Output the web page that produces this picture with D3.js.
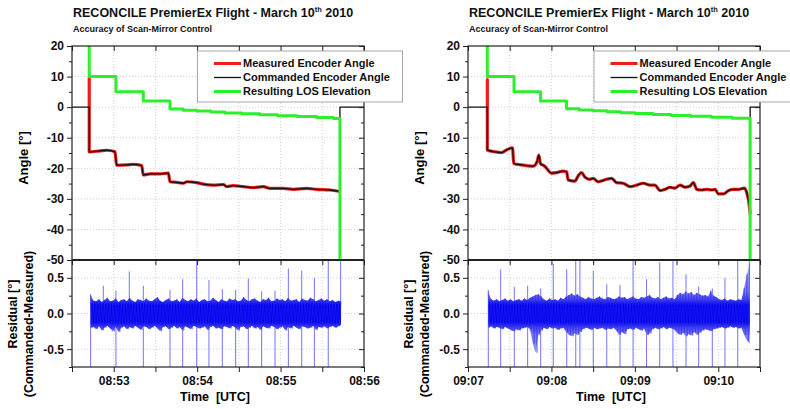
<!DOCTYPE html>
<html>
<head>
<meta charset="utf-8">
<script src="https://cdn.jsdelivr.net/npm/d3@7"></script>
<style>
body { margin: 0; background: #fff; }
svg { display: block; font-family: "Liberation Sans", Arial, sans-serif; }
.axis text { font-size: 12px; font-weight: bold; fill: #111; }
.axis line { stroke: #222; }
.axis path { display: none; }
</style>
</head>
<body>
<svg id="chart" width="790" height="409"></svg>
<script>
// time is given as seconds after each panel's start time
let spanSeconds = 210;
let leftStart = "08:52:30";
let rightStart = "09:07:00";

// encoder angle while tracking (commanded and measured overlap)
let leftTrackT = [12.4, 20.1, 25.0, 30.9, 32.1, 39.3, 44.1, 50.1, 51.3, 56.1,
    63.3, 69.3, 70.5, 75.3, 80.1, 82.5, 89.7, 94.4, 101.6, 108.8,
    111.3, 116.0, 123.2, 130.4, 137.6, 142.4, 152.0, 159.2, 168.8, 176.0,
    185.6, 192.7];
let leftTrackV = [-14.6, -14.3, -14.1, -14.6, -19.0, -18.9, -18.7, -19.1, -22.2, -21.8,
    -21.8, -21.6, -24.4, -24.6, -24.9, -24.4, -24.7, -25.2, -25.5, -25.3,
    -26.0, -25.7, -26.0, -26.3, -26.0, -26.6, -26.6, -26.9, -26.6, -26.9,
    -27.1, -27.6];
let rightTrackT = [13.9, 19.2, 24.0, 27.7, 32.0, 32.9, 38.5, 46.8, 49.7, 50.9,
    52.1, 55.2, 60.1, 63.7, 68.4, 70.9, 72.0, 76.9, 79.2, 81.7,
    84.1, 87.7, 90.0, 93.6, 96.1, 99.7, 103.3, 106.9, 111.6, 116.5,
    121.3, 126.1, 130.9, 134.5, 138.1, 141.7, 145.3, 148.9, 152.5, 156.1,
    159.7, 162.1, 164.5, 168.1, 171.7, 175.3, 177.7, 180.1, 183.7, 187.3,
    190.9, 194.5, 198.6, 200.5, 202.4, 202.9];
let rightTrackV = [-14.0, -14.6, -14.9, -14.0, -13.3, -18.4, -18.9, -19.3, -17.8, -15.7,
    -18.4, -19.3, -21.6, -21.4, -20.9, -21.1, -23.8, -24.2, -22.5, -21.4,
    -22.9, -23.6, -23.3, -24.4, -24.1, -23.6, -23.3, -24.7, -24.9, -26.0,
    -25.5, -24.9, -25.5, -25.5, -27.3, -26.9, -26.2, -26.5, -25.5, -26.2,
    -25.8, -24.7, -26.9, -27.1, -26.9, -27.1, -26.9, -28.4, -28.4, -27.3,
    -26.9, -26.9, -26.5, -28.0, -32.6, -35.0];
let parkAngle = 0;
let leftOvershoot = 9.5;
let rightOvershoot = 9.0;

// resulting LOS elevation (steps)
let leftLosT = [12.4, 12.4, 31.6, 51.3, 70.5, 80.0, 90, 100, 110, 122, 135, 148, 162, 176, 188, 192.7];
let leftLosV = [25, 10, 5, 2, -0.6, -1.0, -1.3, -1.6, -1.9, -2.2, -2.5, -2.8, -3.1, -3.4, -3.7, -55];
let rightLosT = [13.9, 13.9, 33.1, 52.2, 70.9, 80, 90, 100, 110, 120, 133, 146, 160, 175, 190, 202.9];
let rightLosV = [25, 10, 5, 2, -0.5, -0.9, -1.2, -1.5, -1.8, -2.1, -2.4, -2.7, -3.0, -3.3, -3.6, -55];

// residual noise envelope, one value every 2 s
let leftResStart = 13.4;
let rightResStart = 14.6;
let resStep = 2;
let leftResHi = [0.26, 0.18, 0.17, 0.2, 0.16, 0.19, 0.22, 0.17, 0.18, 0.21,
    0.16, 0.19, 0.2, 0.17, 0.22, 0.18, 0.16, 0.2, 0.19, 0.17,
    0.21, 0.18, 0.17, 0.2, 0.23, 0.18, 0.16, 0.19, 0.21, 0.17,
    0.18, 0.2, 0.16, 0.22, 0.19, 0.17, 0.2, 0.18, 0.21, 0.16,
    0.19, 0.2, 0.17, 0.18, 0.22, 0.19, 0.16, 0.2, 0.18, 0.17,
    0.21, 0.19, 0.2, 0.17, 0.18, 0.23, 0.19, 0.17, 0.2, 0.21,
    0.18, 0.16, 0.2, 0.19, 0.22, 0.17, 0.18, 0.21, 0.19, 0.2,
    0.17, 0.22, 0.18, 0.19, 0.2, 0.16, 0.21, 0.19, 0.18, 0.22,
    0.2, 0.17, 0.19, 0.21, 0.18, 0.2, 0.17, 0.19, 0.16, 0.18, 0.17];
let leftResLo = [-0.2, -0.19, -0.22, -0.18, -0.24, -0.2, -0.17, -0.21, -0.25, -0.19,
    -0.26, -0.2, -0.18, -0.22, -0.19, -0.21, -0.17, -0.2, -0.23, -0.18,
    -0.19, -0.22, -0.2, -0.17, -0.21, -0.25, -0.19, -0.18, -0.22, -0.2,
    -0.17, -0.21, -0.19, -0.24, -0.18, -0.2, -0.22, -0.17, -0.19, -0.21,
    -0.2, -0.18, -0.23, -0.19, -0.17, -0.21, -0.2, -0.22, -0.18, -0.19,
    -0.21, -0.17, -0.2, -0.24, -0.19, -0.18, -0.22, -0.2, -0.17, -0.21,
    -0.19, -0.23, -0.18, -0.2, -0.21, -0.17, -0.19, -0.22, -0.2, -0.18,
    -0.24, -0.19, -0.21, -0.17, -0.2, -0.22, -0.18, -0.19, -0.21, -0.2,
    -0.17, -0.23, -0.19, -0.2, -0.18, -0.21, -0.19, -0.17, -0.2, -0.18, -0.16];
let rightResHi = [0.3, 0.2, 0.18, 0.2, 0.17, 0.19, 0.21, 0.18, 0.2, 0.17,
    0.19, 0.2, 0.18, 0.21, 0.19, 0.22, 0.24, 0.26, 0.27, 0.24,
    0.2, 0.18, 0.21, 0.19, 0.2, 0.18, 0.22, 0.2, 0.24, 0.26,
    0.28, 0.25, 0.27, 0.24, 0.22, 0.2, 0.23, 0.21, 0.2, 0.22,
    0.24, 0.21, 0.2, 0.23, 0.22, 0.2, 0.21, 0.24, 0.22, 0.23,
    0.2, 0.22, 0.24, 0.21, 0.2, 0.23, 0.22, 0.24, 0.26, 0.22,
    0.21, 0.23, 0.2, 0.22, 0.24, 0.21, 0.22, 0.2, 0.26, 0.29,
    0.27, 0.31, 0.28, 0.3, 0.26, 0.29, 0.27, 0.25, 0.26, 0.24,
    0.32, 0.25, 0.23, 0.2, 0.19, 0.21, 0.18, 0.2, 0.19, 0.18,
    0.2, 0.19, 0.36, 0.55, 0.7];
let rightResLo = [-0.2, -0.18, -0.21, -0.19, -0.2, -0.22, -0.19, -0.21, -0.23, -0.25,
    -0.22, -0.24, -0.21, -0.2, -0.19, -0.22, -0.42, -0.55, -0.3, -0.24,
    -0.2, -0.22, -0.19, -0.21, -0.2, -0.23, -0.21, -0.2, -0.26, -0.3,
    -0.32, -0.28, -0.3, -0.26, -0.22, -0.2, -0.21, -0.23, -0.2, -0.22,
    -0.21, -0.2, -0.23, -0.21, -0.22, -0.2, -0.24, -0.3, -0.26, -0.29,
    -0.22, -0.21, -0.23, -0.2, -0.22, -0.24, -0.21, -0.3, -0.28, -0.22,
    -0.2, -0.22, -0.21, -0.19, -0.22, -0.2, -0.21, -0.23, -0.28, -0.3,
    -0.27, -0.32, -0.29, -0.31, -0.26, -0.3, -0.27, -0.24, -0.22, -0.23,
    -0.25, -0.22, -0.21, -0.2, -0.19, -0.21, -0.2, -0.18, -0.2, -0.19,
    -0.21, -0.2, -0.3, -0.38, -0.42];

// single-sample spikes in the residual
let leftSpikeT = [13.4, 22.5, 31.6, 41.2, 51.3, 70.5, 79.6, 89.7, 98.5, 108.1,
    117.7, 126.8, 136.4, 146.0, 155.6, 165.2, 174.3, 184.3, 193.2];
let leftSpikeHi = [0.27, 0.39, 0.32, 0.59, 0.39, 0.33, 0.48, 0.8, 0.47, 0.34,
    0.33, 0.49, 0.31, 0.32, 0.63, 0.6, 0.5, 0.8, 0.8];
let leftSpikeLo = [-0.8, -0.1, -0.8, -0.1, -0.8, -0.8, -0.8, -0.8, -0.8, -0.8,
    -0.8, -0.8, -0.8, -0.8, -0.8, -0.8, -0.8, -0.8, -0.1];
let rightSpikeT = [14.6, 23.5, 33.3, 42.9, 52.3, 61.3, 71.0, 77.5, 80.5, 90.1,
    99.8, 109.3, 118.7, 128.4, 137.9, 147.4, 156.8, 165.9, 175.7, 184.8,
    194.0, 202.3];
let rightSpikeHi = [0.33, 0.62, 0.37, 0.39, 0.35, 0.7, 0.62, 0.8, 0.8, 0.6,
    0.41, 0.4, 0.8, 0.48, 0.72, 0.8, 0.55, 0.38, 0.35, 0.5,
    0.8, 0.8];
let rightSpikeLo = [-0.8, -0.8, -0.8, -0.8, -0.8, -0.8, -0.8, -0.8, -0.8, -0.8,
    -0.8, -0.8, -0.8, -0.8, -0.8, -0.8, -0.8, -0.8, -0.8, -0.8,
    -0.8, -0.3];

let angleTicks = [-50, -40, -30, -20, -10, 0, 10, 20];
let angleMinor = [-45, -35, -25, -15, -5, 5, 15];
let resTicks = [-0.5, 0, 0.5];
let resMinor = [-0.75, -0.25, 0.25, 0.75];
let legendNames = ["Measured Encoder Angle", "Commanded Encoder Angle", "Resulting LOS Elevation"];
let legendColors = ["#f01c1c", "#111", "#2cf02c"];
let legendWidths = [3, 1.3, 3];

let svg = d3.select("#chart");

let toDate = function (s) {
    let p = s.split(":").map(Number);
    return new Date(2010, 2, 10, p[0], p[1], p[2]);
};

let drawPanel = function (p, id) {
    let width = 292;
    let t0 = toDate(p.start);
    let at = s => new Date(+t0 + s * 1000);

    let x = d3.scaleTime().domain([at(0), at(spanSeconds)]).range([0, width]);
    let y = d3.scaleLinear().domain([-50, 20]).range([260, 46]);
    let yr = d3.scaleLinear().domain([-0.75, 0.75]).range([367, 260]);

    let g = svg.append("g").attr("transform", `translate(${p.left},0)`);

    //clip paths for both plots
    let defs = g.append("defs");
    defs.append("clipPath").attr("id", "clipA" + id)
        .append("rect").attr("x", 0).attr("y", 46).attr("width", width).attr("height", 214);
    defs.append("clipPath").attr("id", "clipR" + id)
        .append("rect").attr("x", 0).attr("y", 260).attr("width", width).attr("height", 107);

    //gradient for the noise band: dense core, lighter fringe
    let grad = defs.append("linearGradient").attr("id", "band" + id)
        .attr("gradientUnits", "userSpaceOnUse")
        .attr("x1", 0).attr("x2", 0).attr("y1", yr(0.6)).attr("y2", yr(-0.6));
    [[0.6, "#9a9af6"], [0.3, "#7c7cf4"], [0.2, "#4848f0"], [0.12, "#0000ee"],
     [-0.12, "#0000ee"], [-0.2, "#4848f0"], [-0.3, "#7c7cf4"], [-0.6, "#9a9af6"]]
        .forEach(s => grad.append("stop").attr("offset", (0.6 - s[0]) / 1.2).attr("stop-color", s[1]));

    //dotted grid
    let xGrid = x.ticks(d3.timeSecond.every(30)).filter(d => +d > +at(0) && +d < +at(spanSeconds));
    let grid = g.append("g").attr("stroke", "#c4c4c4").attr("stroke-width", 0.8).attr("stroke-dasharray", "1,2");
    grid.selectAll(".gx").data(xGrid).join("line")
        .attr("x1", d => x(d)).attr("x2", d => x(d)).attr("y1", 46).attr("y2", 367);
    grid.selectAll(".gy").data(angleTicks.filter(v => v > -50 && v < 20)).join("line")
        .attr("class", "gy").attr("x1", 0).attr("x2", width).attr("y1", d => y(d)).attr("y2", d => y(d));
    grid.selectAll(".gr").data(resTicks).join("line")
        .attr("class", "gr").attr("x1", 0).attr("x2", width).attr("y1", d => yr(d)).attr("y2", d => yr(d));

    //angle plot
    let track = p.trackT.map((t, i) => ({t: t, v: p.trackV[i]}));
    let tFirst = track[0].t, tLast = track[track.length - 1].t;
    let commanded = [{t: 0, v: parkAngle}, {t: tFirst, v: parkAngle}]
        .concat(track, [{t: tLast, v: parkAngle}, {t: spanSeconds, v: parkAngle}]);
    let measured = [{t: tFirst, v: parkAngle}, {t: tFirst, v: p.overshoot}].concat(track);
    let los = p.losT.map((t, i) => ({t: t, v: p.losV[i]}));

    let line = d3.line().x(d => x(at(d.t))).y(d => y(d.v)).curve(d3.curveMonotoneX);
    let plotA = g.append("g").attr("clip-path", `url(#clipA${id})`).attr("fill", "none")
        .attr("stroke-linejoin", "round");
    plotA.append("path").attr("d", line(measured)).attr("stroke", legendColors[0]).attr("stroke-width", 3.2);
    plotA.append("path").attr("d", line(commanded)).attr("stroke", legendColors[1]).attr("stroke-width", 1.3);
    plotA.append("path").attr("d", line.curve(d3.curveStepAfter)(los))
        .attr("stroke", legendColors[2]).attr("stroke-width", 3);

    //residual plot
    let plotR = g.append("g").attr("clip-path", `url(#clipR${id})`);
    plotR.selectAll(".spike").data(p.spikeT).join("line")
        .attr("class", "spike")
        .attr("x1", d => x(at(d))).attr("x2", d => x(at(d)))
        .attr("y1", (d, i) => yr(p.spikeLo[i])).attr("y2", (d, i) => yr(p.spikeHi[i]))
        .attr("stroke", "#7474f4").attr("stroke-width", 1);
    let band = p.resHi.map((h, i) => ({t: p.resStart + i * resStep, hi: h, lo: p.resLo[i]}));
    plotR.append("path")
        .attr("d", d3.area().x(d => x(at(d.t))).y0(d => yr(d.lo)).y1(d => yr(d.hi))(band))
        .attr("fill", `url(#band${id})`);
    //zigzag between the envelope values for the noisy texture
    let zig = [];
    band.forEach(d => { zig.push({t: d.t, v: d.hi}); zig.push({t: d.t + resStep / 2, v: d.lo}); });
    plotR.append("path")
        .attr("d", d3.line().x(d => x(at(d.t))).y(d => yr(d.v))(zig.slice(0, -1)))
        .attr("fill", "none").attr("stroke", "#2a2af0").attr("stroke-width", 0.6).attr("stroke-opacity", 0.75);

    //frames
    g.append("rect").attr("x", 0).attr("y", 46).attr("width", width).attr("height", 321)
        .attr("fill", "none").attr("stroke", "#222").attr("stroke-width", 1.2);
    g.append("line").attr("x1", 0).attr("x2", width).attr("y1", 260).attr("y2", 260)
        .attr("stroke", "#222").attr("stroke-width", 1.8);

    //axes
    let every30 = d3.timeSecond.every(30);
    let fmt = d3.timeFormat("%H:%M");
    g.append("g").attr("class", "axis").attr("transform", "translate(0,367)")
        .call(d3.axisBottom(x).ticks(every30).tickSize(5).tickPadding(4)
            .tickFormat(d => d.getSeconds() ? "" : fmt(d)));
    [46, 260].forEach(yy => g.append("g").attr("class", "axis").attr("transform", `translate(0,${yy})`)
        .call(d3.axisBottom(x).ticks(every30).tickSize(5).tickFormat("")));

    g.append("g").attr("class", "axis")
        .call(d3.axisLeft(y).tickValues(angleTicks).tickSize(5).tickPadding(3).tickFormat(d => d));
    g.append("g").attr("class", "axis")
        .call(d3.axisLeft(y).tickValues(angleMinor).tickSize(3).tickFormat(""));
    g.append("g").attr("class", "axis")
        .call(d3.axisLeft(yr).tickValues(resTicks).tickSize(5).tickPadding(3).tickFormat(d => d.toFixed(1)));
    g.append("g").attr("class", "axis")
        .call(d3.axisLeft(yr).tickValues(resMinor).tickSize(3).tickFormat(""));
    //mirrored right axis, ticks inward
    let right = g.append("g").attr("class", "axis").attr("transform", `translate(${width},0)`);
    right.append("g").call(d3.axisLeft(y).tickValues(angleTicks).tickSize(5).tickFormat(""));
    right.append("g").call(d3.axisLeft(y).tickValues(angleMinor).tickSize(3).tickFormat(""));
    right.append("g").call(d3.axisLeft(yr).tickValues(resTicks).tickSize(5).tickFormat(""));
    right.append("g").call(d3.axisLeft(yr).tickValues(resMinor).tickSize(3).tickFormat(""));

    //axis titles
    g.append("text").attr("transform", "translate(-44,158) rotate(-90)")
        .attr("text-anchor", "middle").attr("font-size", 13).attr("font-weight", "bold")
        .text("Angle [°]");
    g.append("text").attr("transform", "translate(-55,314) rotate(-90)")
        .attr("text-anchor", "middle").attr("font-size", 12.5).attr("font-weight", "bold")
        .text("Residual [°]");
    g.append("text").attr("transform", "translate(-39,324) rotate(-90)")
        .attr("text-anchor", "middle").attr("font-size", 12.5).attr("font-weight", "bold")
        .text("(Commanded-Measured)");
    g.append("text").attr("x", width / 2 - 3).attr("y", 401)
        .attr("text-anchor", "middle").attr("font-size", 12.5).attr("font-weight", "bold")
        .attr("xml:space", "preserve").text("Time  [UTC]");

    //titles
    let title = g.append("text").attr("x", 1).attr("y", 16.5)
        .attr("font-size", 12.5).attr("font-weight", "bold").attr("fill", "#111");
    title.append("tspan").text("RECONCILE PremierEx Flight - March 10");
    title.append("tspan").attr("dy", -5).attr("font-size", 7.5).text("th");
    title.append("tspan").attr("dy", 5).text(" 2010");
    g.append("text").attr("x", 1).attr("y", 32)
        .attr("font-size", 9).attr("font-weight", "bold").attr("fill", "#111")
        .text("Accuracy of Scan-Mirror Control");

    //legend
    let leg = svg.append("g").attr("transform", `translate(${p.legX},51)`);
    leg.append("rect").attr("width", 205).attr("height", 51)
        .attr("fill", "#fff").attr("stroke", "#a8a8a8").attr("stroke-width", 1);
    legendNames.forEach((name, i) => {
        let row = leg.append("g").attr("transform", `translate(0,${12.5 + i * 14})`);
        row.append("line").attr("x1", 16.5).attr("x2", 43.5)
            .attr("stroke", legendColors[i]).attr("stroke-width", legendWidths[i]);
        row.append("text").attr("x", 45.5).attr("dy", "0.36em")
            .attr("font-size", 11).attr("font-weight", "bold").attr("fill", "#111")
            .text(name);
    });
};

drawPanel({start: leftStart, left: 72, legX: 197.5,
    trackT: leftTrackT, trackV: leftTrackV, overshoot: leftOvershoot,
    losT: leftLosT, losV: leftLosV,
    resStart: leftResStart, resHi: leftResHi, resLo: leftResLo,
    spikeT: leftSpikeT, spikeHi: leftSpikeHi, spikeLo: leftSpikeLo}, 0);

drawPanel({start: rightStart, left: 468, legX: 594,
    trackT: rightTrackT, trackV: rightTrackV, overshoot: rightOvershoot,
    losT: rightLosT, losV: rightLosV,
    resStart: rightResStart, resHi: rightResHi, resLo: rightResLo,
    spikeT: rightSpikeT, spikeHi: rightSpikeHi, spikeLo: rightSpikeLo}, 1);
</script>
</body>
</html>
